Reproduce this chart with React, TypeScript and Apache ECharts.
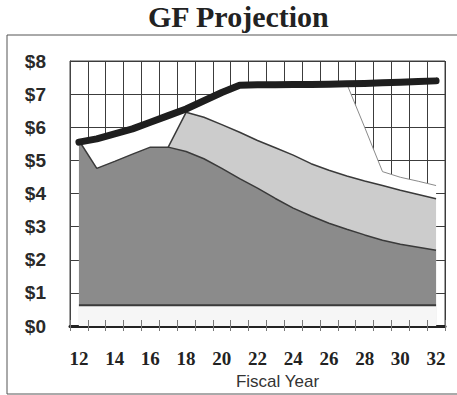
import React, { useEffect, useRef } from "react";
import * as echarts from "echarts";

const years = ["12", "13", "14", "15", "16", "17", "18", "19", "20", "21", "22", "23", "24", "25", "26", "27", "28", "29", "30", "31", "32"];

// thick black projection line
const projection = [5.55, 5.65, 5.8, 5.95, 6.15, 6.35, 6.55, 6.8, 7.05, 7.27, 7.28, 7.28, 7.29, 7.29, 7.3, 7.31, 7.32, 7.34, 7.36, 7.38, 7.4];
// white band top (gap below the line)
const gapTop = [5.55, 5.65, 5.8, 5.95, 6.15, 6.35, 6.55, 6.8, 7.05, 7.27, 7.28, 7.28, 7.29, 7.29, 7.3, 7.31, 6.0, 4.66, 4.49, 4.37, 4.24];
// light gray band top
const lightTop = [null, null, null, null, null, 5.4, 6.45, 6.3, 6.08, 5.85, 5.6, 5.38, 5.16, 4.9, 4.7, 4.53, 4.38, 4.24, 4.1, 3.97, 3.84];
// dark gray band top
const darkTop = [5.6, 4.76, 4.97, 5.19, 5.4, 5.4, 5.27, 5.05, 4.76, 4.45, 4.16, 3.85, 3.56, 3.32, 3.1, 2.92, 2.75, 2.59, 2.47, 2.38, 2.29];
// bottom pale band
const baseTop = [0.63, 0.63, 0.63, 0.63, 0.63, 0.63, 0.63, 0.63, 0.63, 0.63, 0.63, 0.63, 0.63, 0.63, 0.63, 0.63, 0.63, 0.63, 0.63, 0.63, 0.63];

const yTicks = { min: 0, max: 8, interval: 1 };

export default function App() {
  const ref = useRef<HTMLDivElement>(null);
  useEffect(() => {
    if (!ref.current) return;
    const chart = echarts.init(ref.current, null, { renderer: "svg" });
    const gridPos = { left: 70, right: 12, top: 61, bottom: 69 };
    const area = (name: string, data: any[], fill: string, stroke: string, w: number) => ({
      name,
      type: "line",
      data,
      xAxisIndex: 0,
      yAxisIndex: 0,
      symbol: "none",
      smooth: false,
      lineStyle: { color: stroke, width: w },
      areaStyle: { color: fill, opacity: 1 },
      emphasis: { disabled: true },
    });
    chart.setOption({
      animation: false,
      backgroundColor: "#ffffff",
      title: {
        text: "GF Projection",
        left: 148,
        top: 1,
        padding: 0,
        textStyle: { fontFamily: "Liberation Serif", fontWeight: "bold", fontSize: 30, color: "#222" },
      },
      graphic: [
        {
          type: "rect",
          z: -1,
          shape: { x: 7, y: 35, width: 470, height: 359 },
          style: { fill: "none", stroke: "#555", lineWidth: 1 },
        },
      ],
      grid: [
        { ...gridPos, show: true, borderColor: "#444", borderWidth: 1, backgroundColor: "transparent" },
        { ...gridPos, show: false },
      ],
      xAxis: [
        {
          type: "category",
          gridIndex: 0,
          data: years,
          boundaryGap: true,
          name: "Fiscal Year",
          nameLocation: "middle",
          nameGap: 47,
          nameTextStyle: { fontFamily: "Liberation Sans", fontSize: 17, color: "#333", padding: [0, 0, 0, 40] },
          axisLine: { show: true, lineStyle: { color: "#222", width: 3 } },
          axisTick: { show: true, interval: 0, inside: false, length: 5, lineStyle: { color: "#777" } },
          axisLabel: {
            interval: 1,
            margin: 23,
            fontFamily: "Liberation Serif",
            fontWeight: "bold",
            fontSize: 19,
            color: "#222",
          },
          splitLine: { show: true, interval: 0, lineStyle: { color: "#3c3c3c", width: 1 } },
        },
        {
          type: "category",
          gridIndex: 1,
          data: years,
          boundaryGap: true,
          z: 10,
          axisLine: { show: false },
          axisTick: { show: true, interval: 0, inside: true, length: 6, lineStyle: { color: "#777" } },
          axisLabel: { show: false },
          splitLine: { show: false },
        },
      ],
      yAxis: [
        {
          type: "value",
          gridIndex: 0,
          ...yTicks,
          axisLine: { show: true, lineStyle: { color: "#444", width: 1 } },
          axisTick: { show: false },
          axisLabel: {
            formatter: (v: number) => "$" + v,
            margin: 24,
            fontFamily: "Liberation Sans",
            fontWeight: "bold",
            fontSize: 19,
            color: "#2a2a2a",
          },
          splitLine: { show: true, lineStyle: { color: "#3c3c3c", width: 1 } },
        },
        { type: "value", gridIndex: 1, ...yTicks, show: false },
      ],
      series: [
        area("gap", gapTop, "#ffffff", "#8a8a8a", 1),
        area("light", lightTop, "#cccccc", "#3a3a3a", 1.5),
        area("dark", darkTop, "#8b8b8b", "#3a3a3a", 1.5),
        area("base", baseTop, "#f6f6f6", "#3a3a3a", 2),
        {
          name: "projection",
          type: "line",
          data: projection,
          symbol: "none",
          lineStyle: { color: "#1e1e1e", width: 7, cap: "round", join: "round" },
          emphasis: { disabled: true },
        },
      ],
    });
    return () => chart.dispose();
  }, []);
  return <div ref={ref} style={{ position: "fixed", left: 0, top: 0, width: 457, height: 395 }} />;
}
